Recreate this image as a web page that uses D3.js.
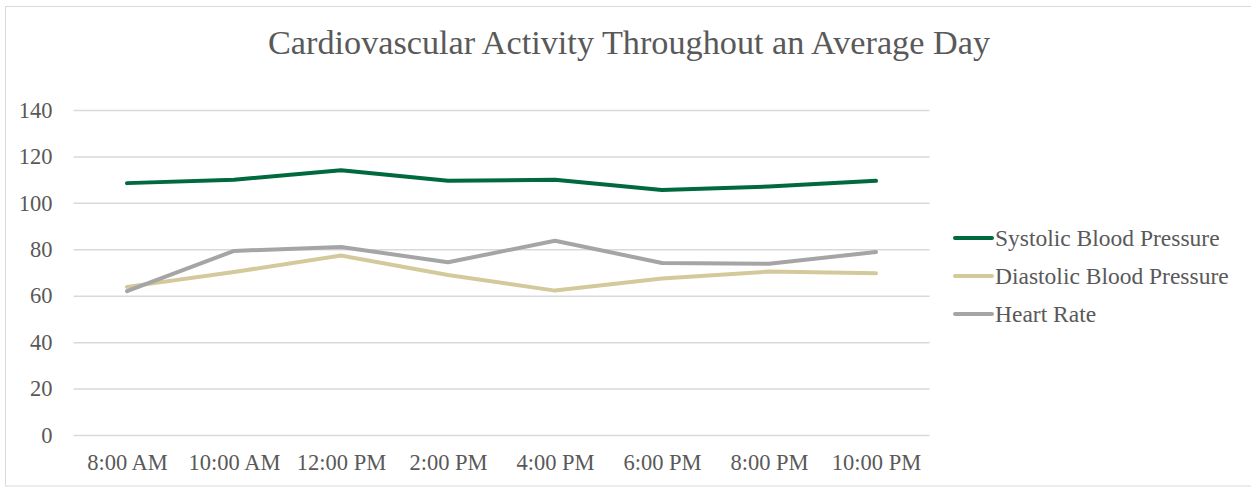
<!DOCTYPE html>
<html>
<head>
<meta charset="utf-8">
<script src="https://cdn.jsdelivr.net/npm/d3@7"></script>
<style>
  html, body { margin: 0; padding: 0; background: #fff; }
  svg { display: block; font-family: "Liberation Serif", "DejaVu Serif", serif; }
</style>
</head>
<body>
<svg id="chart" width="1251" height="489"></svg>
<script>
// Time-of-day categories
const times = ["8:00 AM", "10:00 AM", "12:00 PM", "2:00 PM", "4:00 PM", "6:00 PM", "8:00 PM", "10:00 PM"];

// Measurements per time slot
const systolic  = [108.5, 110, 114, 109.5, 110, 105.5, 107, 109.5];
const diastolic = [63.8, 70.2, 77.3, 68.9, 62.2, 67.4, 70.4, 69.7];
const heartRate = [62, 79.3, 81, 74.4, 83.7, 74.1, 73.8, 78.8];

const seriesNames = ["Systolic Blood Pressure", "Diastolic Blood Pressure", "Heart Rate"];
const seriesColors = ["#00693e", "#d4c99a", "#a5a5a5"];
const yTicks = [0, 20, 40, 60, 80, 100, 120, 140];

const series = [systolic, diastolic, heartRate].map((vals, i) => ({
  name: seriesNames[i], color: seriesColors[i], values: vals
}));

const svg = d3.select("#chart");
const W = 1251, H = 489;
const margin = { left: 73.5, right: 321.5, top: 110, bottom: 54 };

// chart frame
svg.append("rect")
  .attr("x", 5.5).attr("y", 6.5)
  .attr("width", W - 4).attr("height", 479.5)
  .attr("fill", "#fff").attr("stroke", "#d9d9d9").attr("stroke-width", 1);

const x = d3.scalePoint()
  .domain(times)
  .range([margin.left, W - margin.right])
  .padding(0.5);

const y = d3.scaleLinear()
  .domain([0, 140])
  .range([H - margin.bottom, margin.top]);

// title
svg.append("text")
  .attr("x", 629).attr("y", 54)
  .attr("text-anchor", "middle")
  .attr("fill", "#595959")
  .attr("font-size", 34)
  .attr("textLength", 722)
  .attr("lengthAdjust", "spacingAndGlyphs")
  .text("Cardiovascular Activity Throughout an Average Day");

// horizontal gridlines + y labels
const yAxis = d3.axisLeft(y)
  .tickValues(yTicks)
  .tickSize(-(W - margin.right - margin.left))
  .tickPadding(21);

const gy = svg.append("g")
  .attr("transform", `translate(${margin.left},0)`)
  .call(yAxis);
gy.select(".domain").remove();
gy.selectAll(".tick line").attr("stroke", "#d9d9d9").attr("stroke-width", 1.5);
gy.selectAll(".tick text")
  .attr("fill", "#595959")
  .attr("font-size", 22.5)
  .attr("font-family", "Liberation Serif, serif");

// x labels
const xAxis = d3.axisBottom(x).tickSize(0).tickPadding(19);
const gx = svg.append("g")
  .attr("transform", `translate(0,${H - margin.bottom})`)
  .call(xAxis);
gx.select(".domain").remove();
gx.selectAll(".tick text")
  .attr("fill", "#595959")
  .attr("font-size", 22.5)
  .attr("font-family", "Liberation Serif, serif");

// series lines
const line = d3.line()
  .x((d, i) => x(times[i]))
  .y(d => y(d));

svg.append("g").selectAll("path")
  .data(series)
  .join("path")
  .attr("d", d => line(d.values))
  .attr("fill", "none")
  .attr("stroke", d => d.color)
  .attr("stroke-width", 4)
  .attr("stroke-linejoin", "round")
  .attr("stroke-linecap", "round");

// legend
const legend = svg.append("g").attr("transform", "translate(955,238)");
const rows = legend.selectAll("g")
  .data(series)
  .join("g")
  .attr("transform", (d, i) => `translate(0,${i * 38})`);
rows.append("line")
  .attr("x1", 0).attr("x2", 37)
  .attr("y1", 0).attr("y2", 0)
  .attr("stroke", d => d.color)
  .attr("stroke-width", 4)
  .attr("stroke-linecap", "round");
rows.append("text")
  .attr("x", 40).attr("y", 0)
  .attr("dy", "0.35em")
  .attr("fill", "#595959")
  .attr("font-size", 23.5)
  .text(d => d.name);
</script>
</body>
</html>
